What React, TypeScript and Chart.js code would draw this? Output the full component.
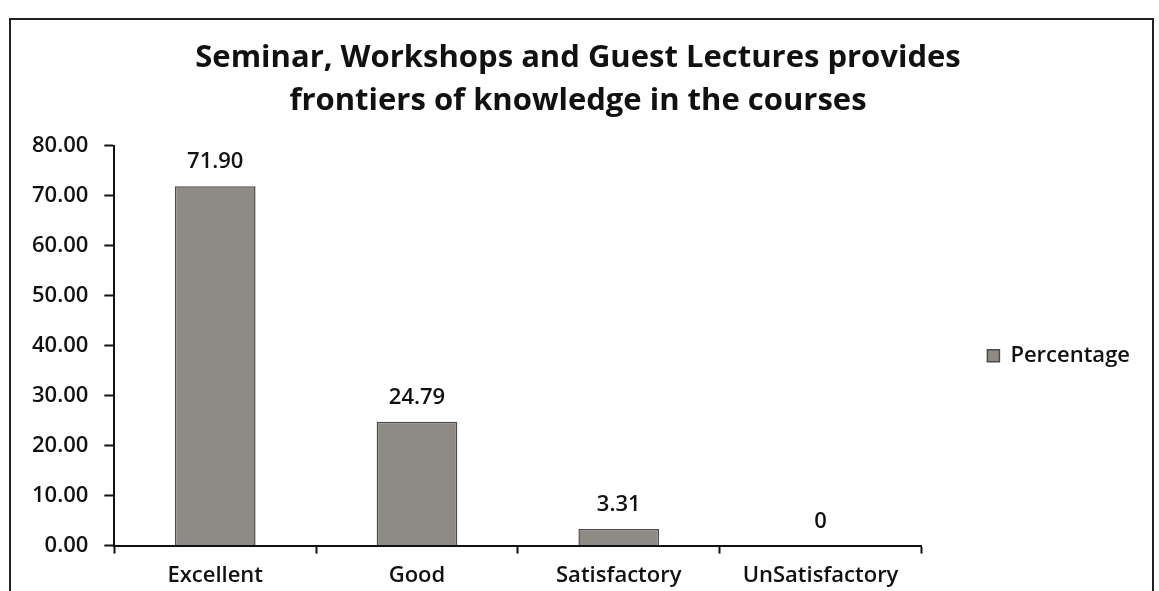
import React, { useEffect, useRef } from "react";
import { Chart, registerables } from "chart.js";

Chart.register(...registerables);

const categories = ["Excellent", "Good", "Satisfactory", "UnSatisfactory"];
const percentages = [71.9, 24.79, 3.31, 0];
const seriesName = "Percentage";
const titleLines = [
  "Seminar, Workshops and Guest Lectures provides",
  "frontiers of knowledge in the courses",
];

const FONT = "'Open Sans', 'DejaVu Sans', sans-serif";

const valueLabels = {
  id: "valueLabels",
  afterDatasetsDraw(chart: any) {
    const ctx = chart.ctx;
    const meta = chart.getDatasetMeta(0);
    ctx.save();
    ctx.font = `600 22px ${FONT}`;
    ctx.fillStyle = "#111";
    ctx.textAlign = "center";
    ctx.textBaseline = "alphabetic";
    meta.data.forEach((bar: any, i: number) => {
      const v = percentages[i];
      const txt = v === 0 ? "0" : v.toFixed(2);
      ctx.fillText(txt, bar.x, bar.y - 18);
    });
    ctx.restore();
  },
};

export default function App() {
  const ref = useRef<HTMLCanvasElement | null>(null);
  useEffect(() => {
    if (!ref.current) return;
    const chart = new Chart(ref.current, {
      type: "bar",
      data: {
        labels: categories,
        datasets: [
          {
            label: seriesName,
            data: percentages,
            backgroundColor: "#8e8b85",
            borderColor: "#4d4b48",
            borderWidth: 1.5,
            categoryPercentage: 1,
            barPercentage: 0.4,
          },
        ],
      },
      options: {
        responsive: false,
        animation: false,
        layout: { padding: { left: 16, right: 19, top: 0, bottom: -7 } },
        plugins: {
          title: {
            display: true,
            text: titleLines,
            color: "#111",
            font: { family: FONT, size: 31, weight: "bold", lineHeight: 1.4 },
            padding: { top: 36, bottom: 23 },
          },
          legend: {
            display: true,
            position: "right",
            fullSize: false,
            title: { display: true, text: "", padding: 0, font: { size: 20, lineHeight: 1 } },
            labels: {
              color: "#111",
              font: { family: FONT, size: 22, weight: "600" },
              boxWidth: 12,
              boxHeight: 12,
              padding: 66,
            },
          },
          tooltip: { enabled: false },
        },
        scales: {
          x: {
            grid: {
              display: true,
              drawOnChartArea: false,
              drawTicks: true,
              tickLength: 8,
              tickColor: "#111",
              tickWidth: 2,
              offset: true,
            },
            border: { color: "#111", width: 2 },
            ticks: {
              color: "#111",
              font: { family: FONT, size: 22, weight: "600" },
              padding: 9,
            },
          },
          y: {
            min: 0,
            max: 80,
            grid: {
              display: true,
              drawOnChartArea: false,
              drawTicks: true,
              tickLength: 10,
              tickColor: "#111",
              tickWidth: 2,
            },
            border: { color: "#111", width: 2 },
            ticks: {
              stepSize: 10,
              color: "#111",
              font: { family: FONT, size: 22, weight: "600" },
              padding: 16,
              callback: (v: any) => Number(v).toFixed(2),
            },
          },
        },
      },
      plugins: [valueLabels],
    });
    return () => chart.destroy();
  }, []);

  return (
    <div style={{ position: "absolute", left: 0, top: 0, width: 1159, height: 591, background: "#fff", overflow: "hidden" }}>
      <div
        style={{
          position: "absolute",
          left: 9,
          top: 18,
          width: 1145,
          height: 620,
          border: "2px solid #222",
          boxSizing: "border-box",
        }}
      />
      <canvas ref={ref} width={1159} height={591} style={{ position: "absolute", left: 0, top: 0, display: "block" }} />
    </div>
  );
}
